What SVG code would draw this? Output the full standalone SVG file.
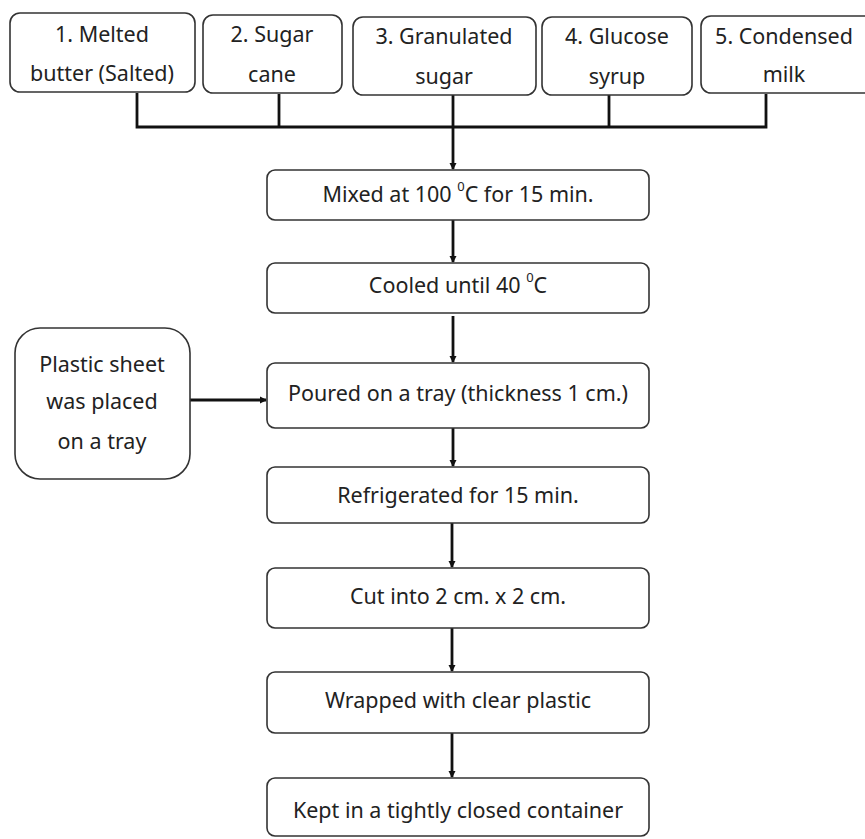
<svg xmlns="http://www.w3.org/2000/svg" width="865" height="839" viewBox="0 0 865 839">
<defs>
<style>
.box{fill:#fff;stroke:#333;stroke-width:1.6}
.t{font-family:"Noto Sans","DejaVu Sans",sans-serif;font-size:21.5px;fill:#222;text-anchor:middle;dominant-baseline:central}
.sup{font-size:13px}
.c{stroke:#111;stroke-width:2.8;fill:none}
</style>
<marker id="ah" markerWidth="8" markerHeight="8" refX="6" refY="4" orient="auto" markerUnits="userSpaceOnUse">
<path d="M0,0.5 L7,4 L0,7.5 Z" fill="#111"/>
</marker>
</defs>
<rect width="865" height="839" fill="#fff"/>
<g id="connectors">
<path class="c" d="M137,93 V127 H766 V94"/>
<path class="c" d="M279,94 V127"/>
<path class="c" d="M609,95 V127"/>
<path class="c" d="M453,95 V169" marker-end="url(#ah)"/>
<path class="c" d="M453,220 V262" marker-end="url(#ah)"/>
<path class="c" d="M453,316 V362" marker-end="url(#ah)"/>
<path class="c" d="M453,428 V466" marker-end="url(#ah)"/>
<path class="c" d="M452,523 V567" marker-end="url(#ah)"/>
<path class="c" d="M452,628 V671" marker-end="url(#ah)"/>
<path class="c" d="M452,733 V777" marker-end="url(#ah)"/>
<path class="c" d="M190,400 V400 H266" marker-end="url(#ah)"/>
</g>
<g id="n1"><rect class="box" x="10" y="13" width="185" height="79" rx="10"/><text class="t" x="102" y="33">1. Melted</text><text class="t" x="102" y="72">butter (Salted)</text></g>
<g id="n2"><rect class="box" x="203" y="15" width="139" height="78" rx="10"/><text class="t" x="272" y="33">2. Sugar</text><text class="t" x="272" y="73">cane</text></g>
<g id="n3"><rect class="box" x="353" y="17" width="183" height="78" rx="10"/><text class="t" x="444" y="35">3. Granulated</text><text class="t" x="444" y="75">sugar</text></g>
<g id="n4"><rect class="box" x="542" y="17" width="150" height="78" rx="10"/><text class="t" x="617" y="35">4. Glucose</text><text class="t" x="617" y="75">syrup</text></g>
<g id="n5"><rect class="box" x="701" y="16" width="180" height="77" rx="10"/><text class="t" x="784" y="35">5. Condensed</text><text class="t" x="784" y="73">milk</text></g>
<g id="n6"><rect class="box" x="267" y="170" width="382" height="50" rx="8"/><text class="t" x="458" y="193">Mixed at 100 <tspan class="sup" dy="-7">0</tspan><tspan dy="7">C for 15 min.</tspan></text></g>
<g id="n7"><rect class="box" x="267" y="263" width="382" height="50" rx="8"/><text class="t" x="458" y="284">Cooled until 40 <tspan class="sup" dy="-7">0</tspan><tspan dy="7">C</tspan></text></g>
<g id="n8"><rect class="box" x="15" y="328" width="175" height="151" rx="25"/><text class="t" x="102" y="363">Plastic sheet</text><text class="t" x="102" y="400">was placed</text><text class="t" x="102" y="440">on a tray</text></g>
<g id="n9"><rect class="box" x="267" y="363" width="382" height="65" rx="8"/><text class="t" x="458" y="392">Poured on a tray (thickness 1 cm.)</text></g>
<g id="n10"><rect class="box" x="267" y="467" width="382" height="56" rx="8"/><text class="t" x="458" y="494">Refrigerated for 15 min.</text></g>
<g id="n11"><rect class="box" x="267" y="568" width="382" height="60" rx="8"/><text class="t" x="458" y="595">Cut into 2 cm. x 2 cm.</text></g>
<g id="n12"><rect class="box" x="267" y="672" width="382" height="61" rx="8"/><text class="t" x="458" y="699">Wrapped with clear plastic</text></g>
<g id="n13"><rect class="box" x="267" y="778" width="382" height="58" rx="8"/><text class="t" x="458" y="809">Kept in a tightly closed container</text></g>
</svg>
